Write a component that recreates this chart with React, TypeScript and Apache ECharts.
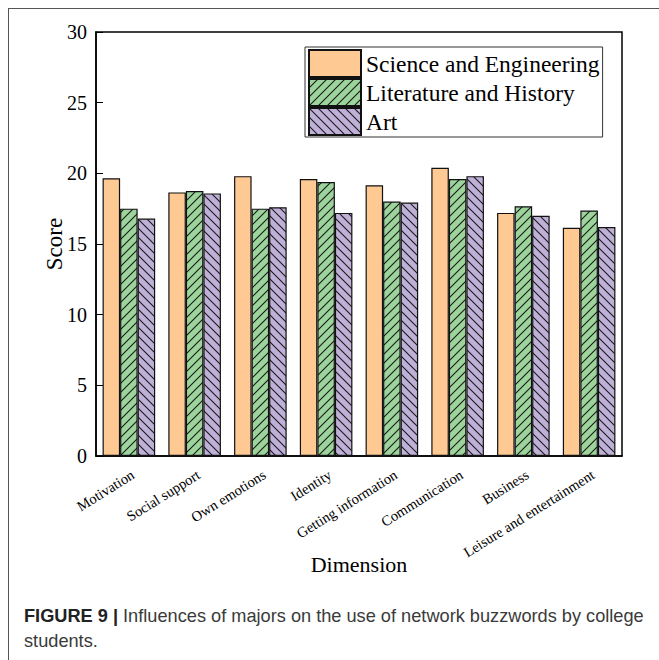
import React, { useEffect, useRef } from "react";
import * as echarts from "echarts";

const categories = [
  "Motivation",
  "Social support",
  "Own emotions",
  "Identity",
  "Getting information",
  "Communication",
  "Business",
  "Leisure and entertainment",
];
const scienceEngineering = [19.65, 18.65, 19.8, 19.6, 19.15, 20.4, 17.2, 16.15];
const literatureHistory = [17.5, 18.75, 17.5, 19.38, 18.0, 19.6, 17.67, 17.37];
const art = [16.8, 18.58, 17.6, 17.2, 17.93, 19.8, 17.0, 16.2];
const seriesNames = ["Science and Engineering", "Literature and History", "Art"];
const yTicks = { min: 0, max: 30, interval: 5 };

const SERIF = "Liberation Serif";
const SANS = "Liberation Sans";

function hatchTile(bg: string, forward: boolean) {
  const s = 9;
  const c = document.createElement("canvas");
  c.width = s;
  c.height = s;
  const g = c.getContext("2d")!;
  g.fillStyle = bg;
  g.fillRect(0, 0, s, s);
  g.strokeStyle = "#1a1a1a";
  g.lineWidth = 1.1;
  g.beginPath();
  if (forward) {
    // "/" lines
    g.moveTo(-1, s + 1);
    g.lineTo(s + 1, -1);
    g.moveTo(-1, 1);
    g.lineTo(1, -1);
    g.moveTo(s - 1, s + 1);
    g.lineTo(s + 1, s - 1);
  } else {
    // "\" lines
    g.moveTo(-1, -1);
    g.lineTo(s + 1, s + 1);
    g.moveTo(-1, s - 1);
    g.lineTo(1, s + 1);
    g.moveTo(s - 1, -1);
    g.lineTo(s + 1, 1);
  }
  g.stroke();
  return { image: c, repeat: "repeat", imageWidth: s, imageHeight: s } as any;
}

export default function App() {
  const ref = useRef<HTMLDivElement>(null);
  useEffect(() => {
    if (!ref.current) return;
    const chart = echarts.init(ref.current, undefined, { renderer: "svg" });
    const mk = (name: string, data: number[], color: any) => ({
      name,
      type: "bar",
      data,
      barGap: "0%",
      barCategoryGap: "20%",
      itemStyle: {
        color,
        borderColor: "#111",
        borderWidth: 1.2,
      },
    });
    chart.setOption({
      animation: false,
      backgroundColor: "#fff",
      grid: {
        left: 96,
        top: 32,
        right: 37,
        bottom: 204,
        show: true,
        borderColor: "#000",
        borderWidth: 1.5,
        backgroundColor: "transparent",
      },
      legend: {
        left: 305,
        top: 47,
        orient: "vertical",
        itemWidth: 52,
        itemHeight: 27,
        itemGap: 0,
        padding: [2, 3, 1, 3],
        borderColor: "#333",
        borderWidth: 1,
        icon: "rect",
        textStyle: {
          fontFamily: SERIF,
          fontSize: 23.5,
          color: "#000",
        },
        data: seriesNames,
      },
      xAxis: {
        type: "category",
        data: categories,
        name: "Dimension",
        nameLocation: "middle",
        nameGap: 97,
        nameMoveOverlap: false,
        nameTextStyle: { fontFamily: SERIF, fontSize: 22, color: "#000", verticalAlign: "top" },
        axisLine: { lineStyle: { color: "#000", width: 1.5 } },
        axisTick: { inside: true, alignWithLabel: true, length: 5, lineStyle: { color: "#000" } },
        axisLabel: {
          rotate: 32,
          margin: 11,
          fontFamily: SERIF,
          fontSize: 14.5,
          color: "#000",
          interval: 0,
          verticalAlign: "top",
        },
      },
      yAxis: {
        type: "value",
        min: yTicks.min,
        max: yTicks.max,
        interval: yTicks.interval,
        name: "Score",
        nameLocation: "middle",
        nameGap: 30,
        nameMoveOverlap: false,
        nameTextStyle: { fontFamily: SERIF, fontSize: 23, color: "#000" },
        splitLine: { show: false },
        axisLine: { show: true, lineStyle: { color: "#000", width: 1.5 } },
        axisTick: { show: true, inside: true, length: 7, lineStyle: { color: "#000" } },
        axisLabel: { fontFamily: SERIF, fontSize: 20, color: "#000", margin: 9 },
      },
      series: [
        mk(seriesNames[0], scienceEngineering, "#FFC994"),
        mk(seriesNames[1], literatureHistory, hatchTile("#9DD49C", true)),
        mk(seriesNames[2], art, hatchTile("#BFB0D8", false)),
      ],
      graphic: [
        {
          type: "line",
          shape: { x1: 8.5, y1: 8, x2: 8.5, y2: 660 },
          style: { stroke: "#555", lineWidth: 1 },
        },
        {
          type: "line",
          shape: { x1: 8, y1: 8.5, x2: 659, y2: 8.5 },
          style: { stroke: "#555", lineWidth: 1 },
        },
        {
          type: "text",
          left: 24,
          top: 607,
          style: {
            text: "{b|FIGURE 9 |} Influences of majors on the use of network buzzwords by college",
            fontFamily: SANS,
            fontSize: 18.2,
            fill: "#3a3a3a",
            rich: {
              b: { fontFamily: SANS, fontSize: 18.2, fontWeight: "bold", fill: "#222" },
            },
          },
        },
        {
          type: "text",
          left: 24,
          top: 632,
          style: { text: "students.", fontFamily: SANS, fontSize: 18.2, fill: "#3a3a3a" },
        },
      ],
    });
    return () => chart.dispose();
  }, []);
  return (
    <div
      ref={ref}
      style={{ position: "fixed", left: 0, top: 0, width: 659, height: 660, background: "#fff" }}
    />
  );
}
